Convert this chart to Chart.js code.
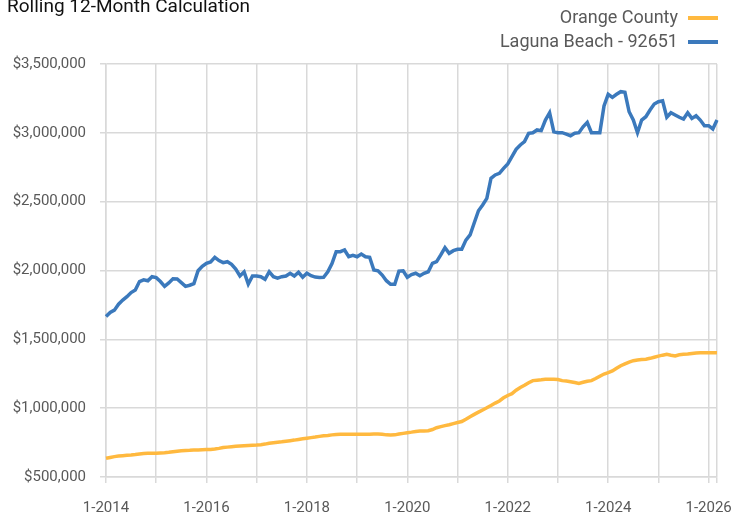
<!DOCTYPE html>
<html>
<head>
<meta charset="utf-8">
<script src="https://cdn.jsdelivr.net/npm/chart.js@4/dist/chart.umd.min.js"></script>
<style>
  html, body { margin: 0; padding: 0; background: #fff; }
  #wrap { position: relative; width: 734px; height: 512px; overflow: hidden; font-family: "Roboto", sans-serif; }
  #title { position: absolute; left: 7px; top: -5px; font-size: 19px; line-height: 22px; color: #111; white-space: nowrap; }
  #legend { position: absolute; right: 16px; top: 5px; text-align: right; }
  .item { height: 24px; line-height: 24px; font-size: 18px; color: #595959; white-space: nowrap; }
  .swatch { display: inline-block; width: 30px; height: 4px; margin-left: 10px; vertical-align: middle; }
  canvas { position: absolute; left: 0; top: 0; }
</style>
</head>
<body>
<div id="wrap">
  <canvas id="chart" width="734" height="512"></canvas>
  <div id="title">Rolling 12-Month Calculation</div>
  <div id="legend"></div>
</div>
<script>
// months 1-2014 .. 3-2026
var months = [];
for (var y = 2014; y <= 2026; y++) {
  for (var m = 1; m <= 12; m++) {
    if (y === 2026 && m > 3) break;
    months.push(m + '-' + y);
  }
}

var orangeCounty = [
  636000, 642000, 648000, 652000, 655000, 658000, 660000, 663000, 667000, 671000, 672000, 672000,
  672000, 674000, 676000, 679000, 683000, 687000, 691000, 693000, 694000, 696000, 697000, 698000,
  699000, 700000, 703000, 708000, 714000, 717000, 720000, 723000, 725000, 727000, 729000, 731000,
  732000, 735000, 739000, 745000, 749000, 753000, 756000, 760000, 764000, 768000, 773000, 778000,
  782000, 786000, 790000, 795000, 799000, 802000, 806000, 809000, 810000, 810000, 810000, 810000,
  810000, 811000, 811000, 811000, 812000, 813000, 810000, 806000, 805000, 806000, 812000, 817000,
  822000, 826000, 831000, 834000, 835000, 836000, 845000, 858000, 866000, 873000, 880000, 888000,
  896000, 903000, 920000, 938000, 955000, 971000, 987000, 1003000, 1020000, 1037000, 1052000, 1075000,
  1092000, 1105000, 1130000, 1150000, 1166000, 1185000, 1200000, 1203000, 1206000, 1210000, 1210000, 1210000,
  1208000, 1200000, 1197000, 1192000, 1186000, 1180000, 1188000, 1196000, 1200000, 1215000, 1232000, 1248000,
  1258000, 1270000, 1290000, 1308000, 1322000, 1335000, 1345000, 1350000, 1353000, 1356000, 1362000, 1370000,
  1378000, 1385000, 1391000, 1385000, 1380000, 1388000, 1391000, 1393000, 1397000, 1401000, 1403000, 1403000,
  1403000, 1403000, 1402000
];

var lagunaBeach = [
  1665000, 1695000, 1712000, 1755000, 1785000, 1810000, 1840000, 1858000, 1920000, 1932000, 1925000, 1955000,
  1948000, 1920000, 1885000, 1910000, 1940000, 1938000, 1912000, 1885000, 1893000, 1905000, 1998000, 2030000,
  2052000, 2062000, 2096000, 2072000, 2057000, 2064000, 2045000, 2010000, 1960000, 1990000, 1902000, 1960000,
  1960000, 1955000, 1936000, 1991000, 1955000, 1945000, 1955000, 1960000, 1980000, 1960000, 1987000, 1951000,
  1980000, 1962000, 1952000, 1950000, 1951000, 1990000, 2050000, 2137000, 2137000, 2149000, 2100000, 2110000,
  2100000, 2120000, 2100000, 2096000, 2004000, 1998000, 1967000, 1926000, 1900000, 1900000, 1996000, 1998000,
  1951000, 1970000, 1980000, 1962000, 1980000, 1991000, 2052000, 2064000, 2113000, 2166000, 2125000, 2144000,
  2154000, 2154000, 2221000, 2258000, 2347000, 2434000, 2476000, 2524000, 2670000, 2694000, 2706000, 2742000,
  2774000, 2827000, 2880000, 2912000, 2936000, 2997000, 3001000, 3021000, 3016000, 3093000, 3146000, 3008000,
  3001000, 3001000, 2991000, 2979000, 2997000, 3001000, 3044000, 3076000, 3001000, 3001000, 3001000, 3195000,
  3280000, 3258000, 3280000, 3299000, 3294000, 3153000, 3093000, 3001000, 3093000, 3117000, 3166000, 3209000,
  3226000, 3233000, 3113000, 3146000, 3130000, 3113000, 3100000, 3146000, 3105000, 3124000, 3093000, 3052000,
  3052000, 3028000, 3093000
];

var seriesNames = ['Orange County', 'Laguna Beach - 92651'];
var seriesColors = ['#FFB93F', '#3B79BC'];

var yMin = 500000, yMax = 3500000, yStep = 500000;

var fontFamily = '"Roboto", sans-serif';
var gridColor = '#d9d9d9';
var last = months.length - 1;

var ctx = document.getElementById('chart');

var myChart = new Chart(ctx, {
  type: 'line',
  data: {
    labels: months,
    datasets: [
      { label: seriesNames[0], data: orangeCounty, borderColor: seriesColors[0], borderWidth: 3.5, pointRadius: 0, fill: false, tension: 0 },
      { label: seriesNames[1], data: lagunaBeach, borderColor: seriesColors[1], borderWidth: 3.5, pointRadius: 0, fill: false, tension: 0 }
    ]
  },
  options: {
    responsive: false,
    animation: false,
    layout: { padding: { top: 64, right: 17, left: 0, bottom: 0 } },
    plugins: { legend: { display: false }, tooltip: { enabled: false } },
    scales: {
      x: {
        afterFit: function(scale) { scale.height = 35; },
        border: { color: gridColor, width: 1.5 },
        grid: {
          color: function(c) { return (c.index % 12 === 0 || c.index === last) ? gridColor : 'rgba(0,0,0,0)'; },
          lineWidth: 1.5,
          tickLength: 6
        },
        ticks: {
          autoSkip: false,
          maxRotation: 0,
          padding: 16,
          color: '#595959',
          font: { family: fontFamily, size: 15 },
          callback: function(v, i) { return i % 24 === 0 ? months[i] : ''; }
        }
      },
      y: {
        min: yMin,
        max: yMax,
        afterFit: function(scale) { scale.width = 106; },
        border: { color: gridColor, width: 1.5 },
        grid: { color: gridColor, lineWidth: 1.5, tickLength: 6 },
        ticks: {
          stepSize: yStep,
          padding: 14,
          color: '#595959',
          font: { family: fontFamily, size: 15 },
          callback: function(v) { return '$' + v.toLocaleString('en-US'); }
        }
      }
    }
  }
});

// legend: text with line sample on the right
var legend = document.getElementById('legend');
myChart.data.datasets.forEach(function(ds) {
  var div = document.createElement('div');
  div.className = 'item';
  div.appendChild(document.createTextNode(ds.label));
  var sw = document.createElement('span');
  sw.className = 'swatch';
  sw.style.background = ds.borderColor;
  div.appendChild(sw);
  legend.appendChild(div);
});
</script>
</body>
</html>
